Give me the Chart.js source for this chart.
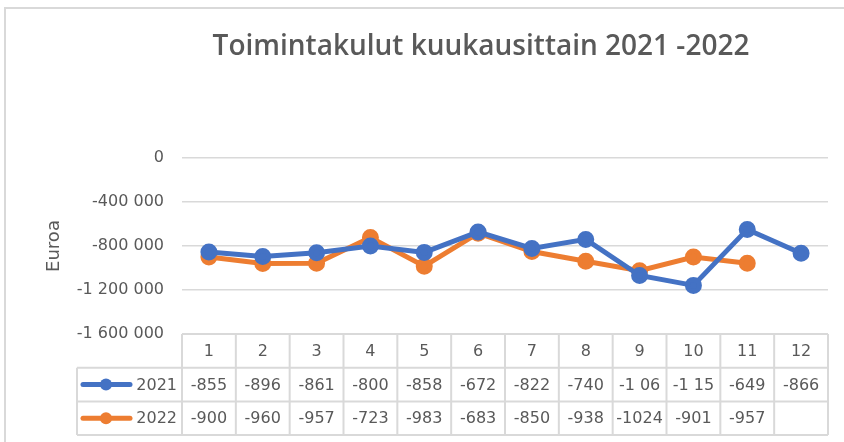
<!DOCTYPE html>
<html>
<head>
<meta charset="utf-8">
<script src="https://cdn.jsdelivr.net/npm/chart.js@4"></script>
<style>
  html, body { margin: 0; padding: 0; background: #fff; }
  #wrap { position: relative; width: 844px; height: 442px; overflow: hidden; }
  #frame { position: absolute; left: 4px; top: 7px; width: 900px; height: 500px; border: 2px solid #d9d9d9; }
  #chart { position: absolute; left: 0; top: 0; }
</style>
</head>
<body>
<div id="wrap">
  <div id="frame"></div>
  <canvas id="chart" width="844" height="442"></canvas>
</div>
<script>
const months = ['1', '2', '3', '4', '5', '6', '7', '8', '9', '10', '11', '12'];
const seriesNames = ['2021', '2022'];
const costs2021 = [-855000, -896000, -861000, -800000, -858000, -672000, -822000, -740000, -1068000, -1158000, -649000, -866000];
const costs2022 = [-900000, -960000, -957000, -723000, -983000, -683000, -850000, -938000, -1024000, -901000, -957000, null];
// table cells as shown in the original (narrow cells cut some numbers)
const table2021 = ['-855', '-896', '-861', '-800', '-858', '-672', '-822', '-740', '-1 06', '-1 15', '-649', '-866'];
const table2022 = ['-900', '-960', '-957', '-723', '-983', '-683', '-850', '-938', '-1024', '-901', '-957', ''];
const colors = ['#4472C4', '#ED7D31'];

const textColor = '#595959';
const gridColor = '#d9d9d9';
const font = 'DejaVu Sans';

function spaced(v) {
    const s = String(Math.abs(v)).replace(/\B(?=(\d{3})+(?!\d))/g, ' ');
    return (v < 0 ? '-' : '') + s;
}

const tablePlugin = {
    id: 'dataTable',
    afterDraw(chart) {
        const { ctx, chartArea: a, scales: { x } } = chart;
        const colW = (a.right - a.left) / months.length;
        const rowH = 33.7;
        const top = a.bottom;
        const legendLeft = 77;

        ctx.save();
        ctx.strokeStyle = gridColor;
        ctx.lineWidth = 2;
        ctx.beginPath();
        ctx.moveTo(a.left, top);
        ctx.lineTo(a.right, top);
        for (let r = 1; r <= 3; r++) {
            ctx.moveTo(legendLeft, top + r * rowH);
            ctx.lineTo(a.right, top + r * rowH);
        }
        for (let i = 0; i <= months.length; i++) {
            ctx.moveTo(a.left + i * colW, top);
            ctx.lineTo(a.left + i * colW, top + 3 * rowH);
        }
        ctx.moveTo(legendLeft, top + rowH);
        ctx.lineTo(legendLeft, top + 3 * rowH);
        ctx.stroke();

        ctx.fillStyle = textColor;
        ctx.font = '16px "' + font + '"';
        ctx.textAlign = 'center';
        ctx.textBaseline = 'middle';
        months.forEach((m, i) => {
            const cx = x.getPixelForValue(i);
            ctx.fillText(m, cx, top + rowH / 2 + 1);
            ctx.fillText(table2021[i], cx, top + rowH * 1.5 + 1);
            ctx.fillText(table2022[i], cx, top + rowH * 2.5 + 1);
        });

        // legend keys
        seriesNames.forEach((name, k) => {
            const cy = top + rowH * (1.5 + k);
            ctx.strokeStyle = colors[k];
            ctx.lineWidth = 5;
            ctx.lineCap = 'round';
            ctx.beginPath();
            ctx.moveTo(legendLeft + 6, cy);
            ctx.lineTo(legendLeft + 53, cy);
            ctx.stroke();
            ctx.fillStyle = colors[k];
            ctx.beginPath();
            ctx.arc(legendLeft + 29, cy, 6, 0, Math.PI * 2);
            ctx.fill();
            ctx.fillStyle = textColor;
            ctx.textAlign = 'right';
            ctx.fillText(name, a.left - 5, cy + 1);
        });

        // title
        ctx.fillStyle = textColor;
        ctx.textAlign = 'center';
        ctx.font = '600 28px "Open Sans"';
        ctx.fillText('Toimintakulut kuukausittain 2021 -2022', 481, 47);
        ctx.restore();
    }
};

new Chart(document.getElementById('chart'), {
    type: 'line',
    data: {
        labels: months,
        datasets: [{
            label: seriesNames[0],
            data: costs2021,
            borderColor: colors[0],
            backgroundColor: colors[0],
            borderWidth: 5,
            pointRadius: 6,
            tension: 0
        }, {
            label: seriesNames[1],
            data: costs2022,
            borderColor: colors[1],
            backgroundColor: colors[1],
            borderWidth: 5,
            pointRadius: 6,
            tension: 0
        }]
    },
    options: {
        responsive: false,
        animation: false,
        layout: { padding: { left: 40, right: 16, top: 158, bottom: 108 } },
        plugins: {
            legend: { display: false },
            title: { display: false },
            tooltip: { enabled: false }
        },
        scales: {
            x: {
                display: false,
                offset: true
            },
            y: {
                min: -1600000,
                max: 0,
                afterFit: scale => { scale.width = 142; },
                grid: { color: gridColor, lineWidth: 1.5, drawTicks: false },
                border: { display: false },
                ticks: {
                    stepSize: 400000,
                    padding: 18,
                    color: textColor,
                    font: { family: font, size: 16 },
                    callback: v => spaced(v)
                },
                title: {
                    display: true,
                    text: 'Euroa',
                    color: textColor,
                    font: { family: font, size: 18 }
                }
            }
        }
    },
    plugins: [tablePlugin]
});
</script>
</body>
</html>
